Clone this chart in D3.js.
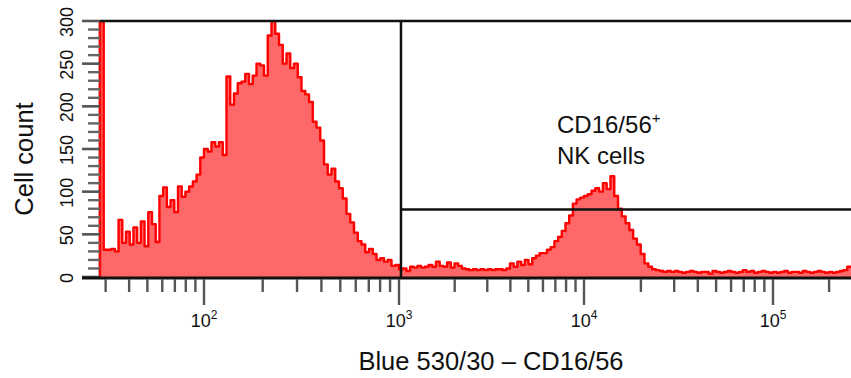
<!DOCTYPE html>
<html>
<head>
<meta charset="utf-8">
<script src="https://cdn.jsdelivr.net/npm/d3@7"></script>
<style>
  html, body { margin: 0; padding: 0; background: #fff; }
  svg { display: block; }
  text { font-family: "Liberation Sans", Arial, Helvetica, sans-serif; fill: #111; }
</style>
</head>
<body>
<svg id="chart" width="851" height="378"></svg>
<script>
// Fluorescence range of the histogram, split at each decade.
const decadeEdges = [28, 100, 1000, 10000, 100000, 262144];

// Cell counts per channel, log-spaced channels within each decade segment.
const countsBelow1e2 = [300, 32, 32, 33, 30, 67, 40, 53, 38, 58, 40, 65, 36, 76,
  62, 41, 95, 105, 82, 90, 76, 106, 94, 100, 106, 112, 120, 140];
const counts1e2to1e3 = [150, 147, 158, 153, 158, 143, 235, 202, 215, 227, 229, 238,
  226, 236, 250, 248, 236, 283, 300, 285, 272, 250, 262, 245, 250, 234, 218, 214,
  205, 182, 175, 160, 132, 120, 127, 112, 104, 92, 74, 64, 52, 42, 38, 29, 33, 27,
  20, 22, 18, 20, 13, 14];
const counts1e3to1e4 = [9, 10, 7, 12, 11, 13, 11, 12, 14, 12, 18, 13, 12, 17, 11,
  16, 13, 10, 9, 8, 9, 8, 9, 8, 9, 8, 9, 9, 8, 10, 16, 12, 18, 14, 20, 15, 22, 25,
  28, 28, 32, 35, 42, 47, 54, 63, 72, 86, 91, 93];
const counts1e4to1e5 = [95, 97, 101, 104, 100, 110, 103, 118, 95, 80, 71, 63, 55,
  45, 38, 27, 16, 12, 9, 8, 7, 6, 7, 6, 7, 6, 5, 6, 7, 6, 5, 6, 6, 4, 7, 6, 5, 6,
  7, 6, 5, 6, 8, 6, 7, 5, 6, 7, 6, 5];
const countsAbove1e5 = [6, 5, 6, 7, 5, 6, 6, 5, 7, 6, 5, 6, 7, 6, 5, 6, 5, 6, 7, 8, 12];

const yTickValues = [0, 50, 100, 150, 200, 250, 300];
const xDecadeExponents = [2, 3, 4, 5];

// Marker gate: lower bound and the bar drawn across the positive region.
const gateFluorescence = 1025;
const gateCount = 79;

const xTitle = "Blue 530/30 \u2013 CD16/56";
const yTitle = "Cell count";
const populationName = "CD16/56";
const populationSign = "+";
const populationKind = "NK cells";

(function draw() {
  const segments = [countsBelow1e2, counts1e2to1e3, counts1e3to1e4, counts1e4to1e5, countsAbove1e5];

  const svg = d3.select("#chart");
  const pL = 100, pR = 851, pT = 21, pB = 277;

  const x = d3.scaleLog()
    .domain(decadeEdges)
    .range([pL, 204, 399, 584, 773, pR]);
  const y = d3.scaleLinear().domain([0, 300]).range([pB, pT]);

  // Channel bins (log-uniform inside each segment)
  const bins = [];
  segments.forEach((counts, s) => {
    const lo = decadeEdges[s], hi = decadeEdges[s + 1], n = counts.length;
    counts.forEach((c, i) => {
      bins.push({
        x0: lo * Math.pow(hi / lo, i / n),
        x1: lo * Math.pow(hi / lo, (i + 1) / n),
        count: c
      });
    });
  });

  const stepPts = [[decadeEdges[0], 0]];
  bins.forEach(b => { stepPts.push([b.x0, b.count]); stepPts.push([b.x1, b.count]); });

  svg.append("defs").append("clipPath").attr("id", "plotClip")
    .append("rect").attr("x", pL - 2).attr("y", pT - 1)
    .attr("width", pR - pL + 4).attr("height", pB - pT + 2);

  // Left axis line (sits under the overflow channel)
  svg.append("line")
    .attr("x1", pL).attr("x2", pL).attr("y1", pT).attr("y2", pB + 1)
    .attr("stroke", "#111").attr("stroke-width", 2.5);

  const plot = svg.append("g").attr("clip-path", "url(#plotClip)");

  plot.append("path")
    .datum(stepPts)
    .attr("d", d3.area().x(d => x(d[0])).y0(y(0)).y1(d => y(d[1])))
    .attr("fill", "#ff6868");

  plot.append("path")
    .datum(stepPts)
    .attr("d", d3.line().x(d => x(d[0])).y(d => y(d[1])))
    .attr("fill", "none")
    .attr("stroke", "#f00")
    .attr("stroke-width", 2.4)
    .attr("stroke-linejoin", "round");

  // Frame top edge
  svg.append("line")
    .attr("x1", pL).attr("x2", pR).attr("y1", pT).attr("y2", pT)
    .attr("stroke", "#111").attr("stroke-width", 2.5);

  // Gate marker
  svg.append("line")
    .attr("x1", x(gateFluorescence)).attr("x2", x(gateFluorescence))
    .attr("y1", pT).attr("y2", pB)
    .attr("stroke", "#111").attr("stroke-width", 2.5);
  svg.append("line")
    .attr("x1", x(gateFluorescence)).attr("x2", pR)
    .attr("y1", y(gateCount)).attr("y2", y(gateCount))
    .attr("stroke", "#111").attr("stroke-width", 2.5);

  // Y axis ticks: minor every 10, major every 50
  const yMinor = y.ticks(30).filter(v => v % 50 !== 0);
  svg.append("g").selectAll("line").data(yMinor).join("line")
    .attr("x1", 88).attr("x2", pL).attr("y1", d => y(d)).attr("y2", d => y(d))
    .attr("stroke", "#666").attr("stroke-width", 2.4);
  svg.append("g").selectAll("line").data(yTickValues).join("line")
    .attr("x1", 82).attr("x2", pL).attr("y1", d => y(d)).attr("y2", d => y(d))
    .attr("stroke", "#555").attr("stroke-width", 2.6);
  svg.append("g").selectAll("text").data(yTickValues).join("text")
    .attr("transform", d => `translate(73,${y(d) + 1}) rotate(-90)`)
    .attr("text-anchor", "middle")
    .attr("font-size", 18)
    .text(d => d);

  // X axis baseline
  svg.append("line")
    .attr("x1", 82).attr("x2", pR).attr("y1", pB + 1).attr("y2", pB + 1)
    .attr("stroke", "#111").attr("stroke-width", 3);

  // X axis ticks from the log scale
  const isDecade = v => Math.abs(Math.log10(v) - Math.round(Math.log10(v))) < 1e-9;
  const xAll = x.ticks().filter(v => v >= decadeEdges[0] && v <= decadeEdges[decadeEdges.length - 1]);
  svg.append("g").selectAll("line").data(xAll.filter(v => !isDecade(v))).join("line")
    .attr("x1", d => x(d)).attr("x2", d => x(d))
    .attr("y1", pB + 2).attr("y2", pB + 15)
    .attr("stroke", "#555").attr("stroke-width", 2.4);
  svg.append("g").selectAll("line").data(xDecadeExponents).join("line")
    .attr("x1", d => x(Math.pow(10, d))).attr("x2", d => x(Math.pow(10, d)))
    .attr("y1", pB + 2).attr("y2", pB + 28)
    .attr("stroke", "#555").attr("stroke-width", 2.4);

  const xl = svg.append("g").selectAll("text").data(xDecadeExponents).join("text")
    .attr("x", d => x(Math.pow(10, d)))
    .attr("y", 327)
    .attr("text-anchor", "middle")
    .attr("font-size", 18);
  xl.append("tspan").text("10");
  xl.append("tspan").attr("dy", -8).attr("font-size", 12).text(d => d);

  // Axis titles
  svg.append("text")
    .attr("x", 491).attr("y", 370)
    .attr("text-anchor", "middle")
    .attr("font-size", 25.5)
    .text(xTitle);
  svg.append("text")
    .attr("transform", "translate(33,159) rotate(-90)")
    .attr("text-anchor", "middle")
    .attr("font-size", 25.5)
    .text(yTitle);

  // Population label
  const pl = svg.append("text").attr("x", 557).attr("y", 133).attr("font-size", 24);
  pl.append("tspan").text(populationName);
  pl.append("tspan").attr("dy", -10).attr("font-size", 15).text(populationSign);
  svg.append("text").attr("x", 557).attr("y", 164).attr("font-size", 24).text(populationKind);
})();
</script>
</body>
</html>
